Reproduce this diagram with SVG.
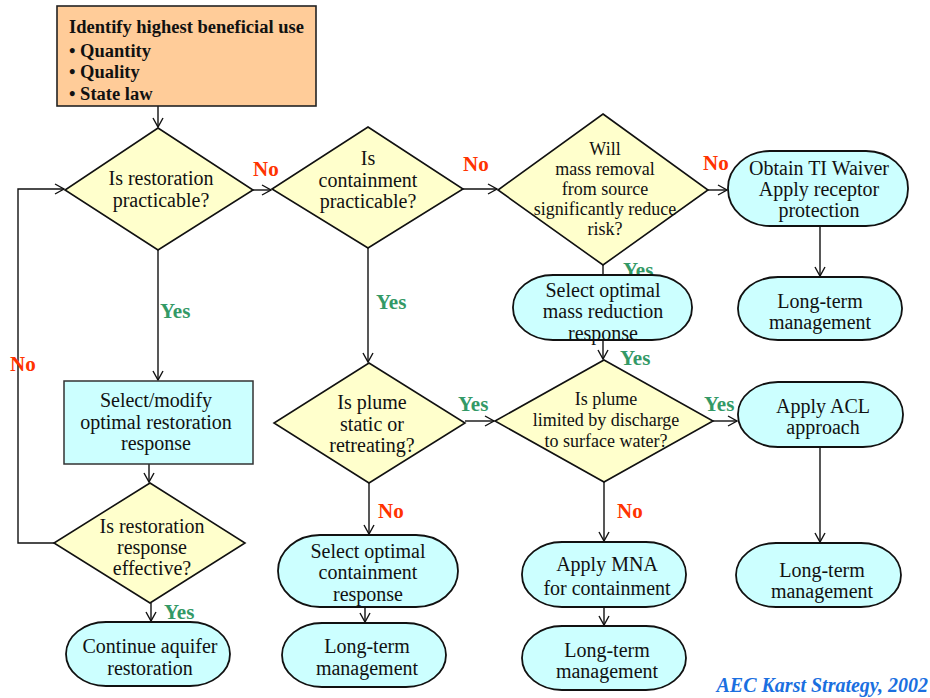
<svg xmlns="http://www.w3.org/2000/svg" width="930" height="698" viewBox="0 0 930 698">
<defs>
<marker id="arr" markerWidth="12" markerHeight="12" refX="10" refY="6" orient="auto" markerUnits="userSpaceOnUse">
<path d="M1,1 L10,6 L1,11" fill="none" stroke="#111" stroke-width="1.4"/>
</marker>
<style>
.dia{fill:#FFFFCC;stroke:#111;stroke-width:1.6}
.ov{fill:#CCFFFF;stroke:#111;stroke-width:1.8}
.bx{fill:#CCFFFF;stroke:#333;stroke-width:1.5}
.t{font-family:"Liberation Serif","Times New Roman",serif;font-size:20px;fill:#111;text-anchor:middle}
.s{font-size:18px}
.h{font-family:"Liberation Serif","Times New Roman",serif;font-size:18.5px;font-weight:bold;fill:#111}
.no{font-family:"Liberation Serif","Times New Roman",serif;font-size:21px;font-weight:bold;fill:#FF3300}
.yes{font-family:"Liberation Serif","Times New Roman",serif;font-size:21px;font-weight:bold;fill:#339966}
.c{fill:none;stroke:#111;stroke-width:1.4}
</style>
</defs>
<rect width="930" height="698" fill="#fff"/>

<g id="connectors">
<path class="c" d="M158,106 V127" marker-end="url(#arr)"/>
<path class="c" d="M253,190 H271" marker-end="url(#arr)"/>
<path class="c" d="M463,189 H497" marker-end="url(#arr)"/>
<path class="c" d="M708,190 H727" marker-end="url(#arr)"/>
<path class="c" d="M820,226 V276" marker-end="url(#arr)"/>
<path class="c" d="M158,250 V380" marker-end="url(#arr)"/>
<path class="c" d="M149,464 V482" marker-end="url(#arr)"/>
<path class="c" d="M151,603 V621" marker-end="url(#arr)"/>
<path class="c" d="M54,543 H18 V189 H64" marker-end="url(#arr)"/>
<path class="c" d="M368,248 V362" marker-end="url(#arr)"/>
<path class="c" d="M369,483 V534" marker-end="url(#arr)"/>
<path class="c" d="M365,607 V622" marker-end="url(#arr)"/>
<path class="c" d="M465,421 H494" marker-end="url(#arr)"/>
<path class="c" d="M603,265 V275"/>
<path class="c" d="M603,340 V359" marker-end="url(#arr)"/>
<path class="c" d="M713,421 H737" marker-end="url(#arr)"/>
<path class="c" d="M820,447 V542" marker-end="url(#arr)"/>
<path class="c" d="M604,482 V541" marker-end="url(#arr)"/>
<path class="c" d="M604,607 V625" marker-end="url(#arr)"/>
</g>

<g id="labels">
<text class="no" x="253" y="176">No</text>
<text class="no" x="463" y="171">No</text>
<text class="no" x="703" y="170">No</text>
<text class="no" x="10" y="371">No</text>
<text class="no" x="378" y="518">No</text>
<text class="no" x="617" y="518">No</text>
<text class="yes" x="160" y="318">Yes</text>
<text class="yes" x="376" y="309">Yes</text>
<text class="yes" x="623" y="277">Yes</text>
<text class="yes" x="620" y="365">Yes</text>
<text class="yes" x="458" y="411">Yes</text>
<text class="yes" x="704" y="411">Yes</text>
<text class="yes" x="164" y="619">Yes</text>
</g>

<g id="start">
<rect x="57" y="6" width="259" height="100" fill="#FFCC99" stroke="#222" stroke-width="1.6"/>
<text class="h" x="69" y="33">Identify highest beneficial use</text>
<text class="h" x="69" y="57">• Quantity</text>
<text class="h" x="69" y="78">• Quality</text>
<text class="h" x="69" y="100">• State law</text>
</g>

<g id="d1">
<polygon class="dia" points="158,128 253,190 158,250 65,190"/>
<text class="t" x="161" y="185">Is restoration</text>
<text class="t" x="161" y="207">practicable?</text>
</g>

<g id="d2">
<polygon class="dia" points="368,127 463,189 368,248 272,189"/>
<text class="t" x="368" y="165">Is</text>
<text class="t" x="368" y="187">containment</text>
<text class="t" x="368" y="208">practicable?</text>
</g>

<g id="d3">
<polygon class="dia" points="603,114 708,190 603,265 498,190"/>
<text class="t s" x="605" y="155">Will</text>
<text class="t s" x="605" y="175">mass removal</text>
<text class="t s" x="605" y="195">from source</text>
<text class="t s" x="605" y="215">significantly reduce</text>
<text class="t s" x="605" y="235">risk?</text>
</g>

<g id="ti">
<rect class="ov" x="728" y="151" width="180" height="75" rx="42" ry="37"/>
<text class="t" x="819" y="175">Obtain TI Waiver</text>
<text class="t" x="819" y="196">Apply receptor</text>
<text class="t" x="819" y="217">protection</text>
</g>

<g id="lt1">
<rect class="ov" x="738" y="277" width="164" height="63" rx="40" ry="31"/>
<text class="t" x="820" y="308">Long-term</text>
<text class="t" x="820" y="329">management</text>
</g>

<g id="mass">
<rect class="ov" x="513" y="275" width="179" height="65" rx="40" ry="32"/>
<text class="t" x="603" y="297">Select optimal</text>
<text class="t" x="603" y="318">mass reduction</text>
<text class="t" x="603" y="340">response</text>
</g>

<g id="sel">
<rect class="bx" x="64" y="381" width="189" height="83"/>
<text class="t" x="156" y="407">Select/modify</text>
<text class="t" x="156" y="429">optimal restoration</text>
<text class="t" x="156" y="450">response</text>
</g>

<g id="d5">
<polygon class="dia" points="150,483 245,543 150,603 54,543"/>
<text class="t" x="152" y="533">Is restoration</text>
<text class="t" x="152" y="554">response</text>
<text class="t" x="152" y="575">effective?</text>
</g>

<g id="cont">
<rect class="ov" x="66" y="622" width="164" height="64" rx="40" ry="32"/>
<text class="t" x="150" y="653">Continue aquifer</text>
<text class="t" x="150" y="675">restoration</text>
</g>

<g id="d6">
<polygon class="dia" points="369,363 465,423 369,483 274,423"/>
<text class="t" x="372" y="409">Is plume</text>
<text class="t" x="372" y="431">static or</text>
<text class="t" x="372" y="452">retreating?</text>
</g>

<g id="contain">
<rect class="ov" x="278" y="535" width="180" height="72" rx="42" ry="36"/>
<text class="t" x="368" y="558">Select optimal</text>
<text class="t" x="368" y="579">containment</text>
<text class="t" x="368" y="601">response</text>
</g>

<g id="lt2">
<rect class="ov" x="282" y="623" width="164" height="64" rx="40" ry="32"/>
<text class="t" x="367" y="653">Long-term</text>
<text class="t" x="367" y="675">management</text>
</g>

<g id="d4">
<polygon class="dia" points="604,360 713,421 604,482 495,421"/>
<text class="t s" x="606" y="405">Is plume</text>
<text class="t s" x="606" y="426">limited by discharge</text>
<text class="t s" x="606" y="447">to surface water?</text>
</g>

<g id="acl">
<rect class="ov" x="738" y="382" width="165" height="65" rx="40" ry="32"/>
<text class="t" x="823" y="413">Apply ACL</text>
<text class="t" x="823" y="434">approach</text>
</g>

<g id="lt3">
<rect class="ov" x="736" y="543" width="165" height="64" rx="40" ry="32"/>
<text class="t" x="822" y="577">Long-term</text>
<text class="t" x="822" y="598">management</text>
</g>

<g id="mna">
<rect class="ov" x="522" y="542" width="164" height="65" rx="40" ry="32"/>
<text class="t" x="607" y="571">Apply MNA</text>
<text class="t" x="607" y="595">for containment</text>
</g>

<g id="lt4">
<rect class="ov" x="522" y="626" width="164" height="64" rx="40" ry="32"/>
<text class="t" x="607" y="657">Long-term</text>
<text class="t" x="607" y="678">management</text>
</g>

<text x="928" y="692" text-anchor="end" font-family="'Liberation Serif','Times New Roman',serif" font-size="20" font-weight="bold" font-style="italic" fill="#1A6FE0">AEC Karst Strategy, 2002</text>
</svg>
